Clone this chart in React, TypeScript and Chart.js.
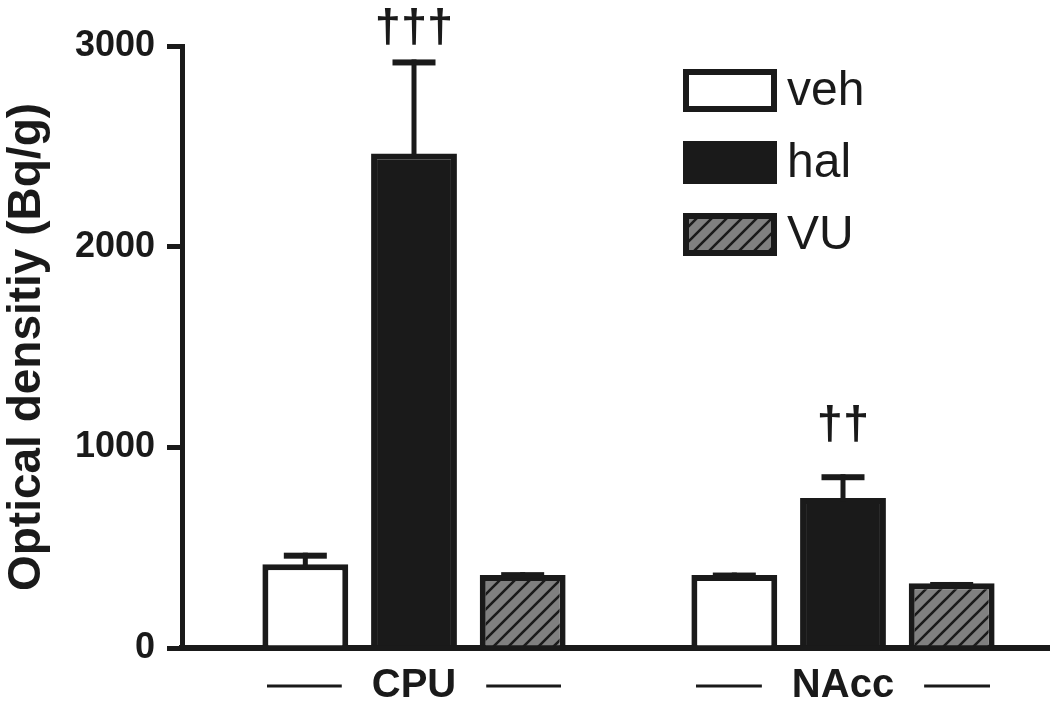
import { useEffect, useRef } from "react";
import { Chart, registerables } from "chart.js";
Chart.register(...registerables);

const regions = ["CPU", "NAcc"];
const regionPositions = [0, 1];
const seriesNames = ["veh", "hal", "VU"];
const vehMeans = [417, 364];
const vehErrors = [58, 12];
const halMeans = [2464, 747];
const halErrors = [469, 119];
const vuMeans = [364, 323];
const vuErrors = [14, 6];
const halSignificance = ["†††", "††"];
const yTickValues = [0, 1000, 2000, 3000];
const yTitle = "Optical densitiy (Bq/g)";

const INK = "#1a1a1a";
const GREY = "#808080";
const FONT = "'Liberation Sans', Arial, Helvetica, sans-serif";

function makeHatch(): CanvasPattern | string {
  const s = 15;
  const c = document.createElement("canvas");
  c.width = s;
  c.height = s;
  const g = c.getContext("2d");
  if (!g) return GREY;
  g.fillStyle = GREY;
  g.fillRect(0, 0, s, s);
  g.strokeStyle = INK;
  g.lineWidth = 2.6;
  g.beginPath();
  g.moveTo(-2, s + 2);
  g.lineTo(s + 2, -2);
  g.moveTo(-s / 2 - 2, s / 2 + 2);
  g.lineTo(s / 2 + 2, -s / 2 - 2);
  g.moveTo(s / 2 - 2, s * 1.5 + 2);
  g.lineTo(s * 1.5 + 2, s / 2 - 2);
  g.stroke();
  const p = g.createPattern(c, "repeat");
  return p || GREY;
}

export default function App() {
  const ref = useRef<HTMLCanvasElement | null>(null);

  useEffect(() => {
    if (!ref.current) return;
    const hatch = makeHatch();

    const errorBars = {
      id: "errorBars",
      afterDatasetsDraw(chart: any) {
        const { ctx } = chart;
        const y = chart.scales.y;
        chart.data.datasets.forEach((ds: any, di: number) => {
          const meta = chart.getDatasetMeta(di);
          meta.data.forEach((bar: any, i: number) => {
            const mean = ds.data[i].y;
            const err = ds.errors[i];
            const top = y.getPixelForValue(mean + err);
            ctx.save();
            ctx.fillStyle = INK;
            ctx.fillRect(bar.x - 2.5, top, 5, bar.y - top + 3);
            ctx.fillRect(bar.x - 21.5, top, 43, 6);
            if (ds.marks) {
              ctx.font = `bold 47px ${FONT}`;
              ctx.textAlign = "center";
              ctx.textBaseline = "alphabetic";
              const baseline = Math.max(top - 35, 42);
              ctx.fillText(ds.marks[i], bar.x, baseline);
            }
            ctx.restore();
          });
        });
      },
    };

    const groupLabels = {
      id: "groupLabels",
      afterDraw(chart: any) {
        const { ctx, chartArea } = chart;
        const x = chart.scales.x;
        ctx.save();
        ctx.font = `bold 40px ${FONT}`;
        ctx.fillStyle = INK;
        ctx.textAlign = "center";
        ctx.textBaseline = "middle";
        const cy = chartArea.bottom + 38;
        regions.forEach((name, i) => {
          const cx = x.getPixelForValue(regionPositions[i]);
          const w = ctx.measureText(name).width;
          ctx.fillText(name, cx, cy);
          const len = 147 - w / 2 - 30;
          ctx.fillRect(cx - 147, cy - 1.5, len, 3);
          ctx.fillRect(cx + w / 2 + 30, cy - 1.5, len, 3);
        });
        ctx.restore();
      },
    };

    const legendBoxes = {
      id: "legendBoxes",
      afterDraw(chart: any) {
        const { ctx, chartArea } = chart;
        const left = chartArea.right - 366;
        ctx.save();
        chart.data.datasets.forEach((ds: any, i: number) => {
          const top = chartArea.top + 23 + i * 72;
          ctx.fillStyle = ds.backgroundColor;
          ctx.fillRect(left, top, 94, 43);
          ctx.strokeStyle = INK;
          ctx.lineWidth = 6;
          ctx.strokeRect(left + 3, top + 3, 88, 37);
          ctx.fillStyle = INK;
          ctx.font = `48px ${FONT}`;
          ctx.textAlign = "left";
          ctx.textBaseline = "middle";
          ctx.fillText(ds.label, left + 104, top + 23);
        });
        ctx.restore();
      },
    };

    const mk = (i: number, means: number[], errors: number[], bg: any, marks?: string[]) => ({
      label: seriesNames[i],
      data: regionPositions.map((p, k) => ({ x: p, y: means[k] })),
      errors,
      marks,
      backgroundColor: bg,
      borderColor: INK,
      borderWidth: 6,
      borderSkipped: "start",
    });

    const chart = new Chart(ref.current, {
      type: "bar",
      data: {
        datasets: [
          mk(0, vehMeans, vehErrors, "#ffffff"),
          mk(1, halMeans, halErrors, INK, halSignificance),
          mk(2, vuMeans, vuErrors, hatch),
        ] as any,
      },
      plugins: [errorBars, groupLabels, legendBoxes],
      options: {
        animation: false,
        responsive: false,
        layout: { padding: { top: 46, right: 1, left: 0, bottom: 0 } },
        datasets: { bar: { categoryPercentage: 0.76, barPercentage: 0.79 } },
        plugins: { legend: { display: false }, tooltip: { enabled: false } },
        scales: {
          x: {
            type: "linear",
            min: -0.5408,
            max: 1.4802,
            offset: false,
            grid: { display: false },
            ticks: { display: false },
            border: { display: true, width: 6, color: INK },
            afterBuildTicks: (scale: any) => {
              scale.ticks = regionPositions.map((v) => ({ value: v }));
            },
            afterFit: (scale: any) => {
              scale.height = 57;
            },
          },
          y: {
            min: 0,
            max: 3000,
            afterBuildTicks: (scale: any) => {
              scale.ticks = yTickValues.map((v) => ({ value: v }));
            },
            afterFit: (scale: any) => {
              scale.width = 182;
            },
            ticks: {
              font: { family: FONT, size: 36, weight: "bold" },
              color: INK,
              padding: 12,
              callback: (v: any) => String(v),
            },
            grid: {
              drawOnChartArea: false,
              drawTicks: true,
              tickLength: 15,
              lineWidth: 5,
              color: INK,
            },
            border: { display: true, width: 5, color: INK },
            title: {
              display: true,
              text: yTitle,
              color: INK,
              font: { family: FONT, size: 46, weight: "bold" },
              padding: { top: 0, bottom: 0 },
            },
          },
        },
      } as any,
    });
    return () => chart.destroy();
  }, []);

  return (
    <div style={{ position: "absolute", left: 0, top: 0, width: 1050, height: 705, background: "#fff" }}>
      <canvas ref={ref} width={1050} height={705} style={{ display: "block" }} />
    </div>
  );
}
